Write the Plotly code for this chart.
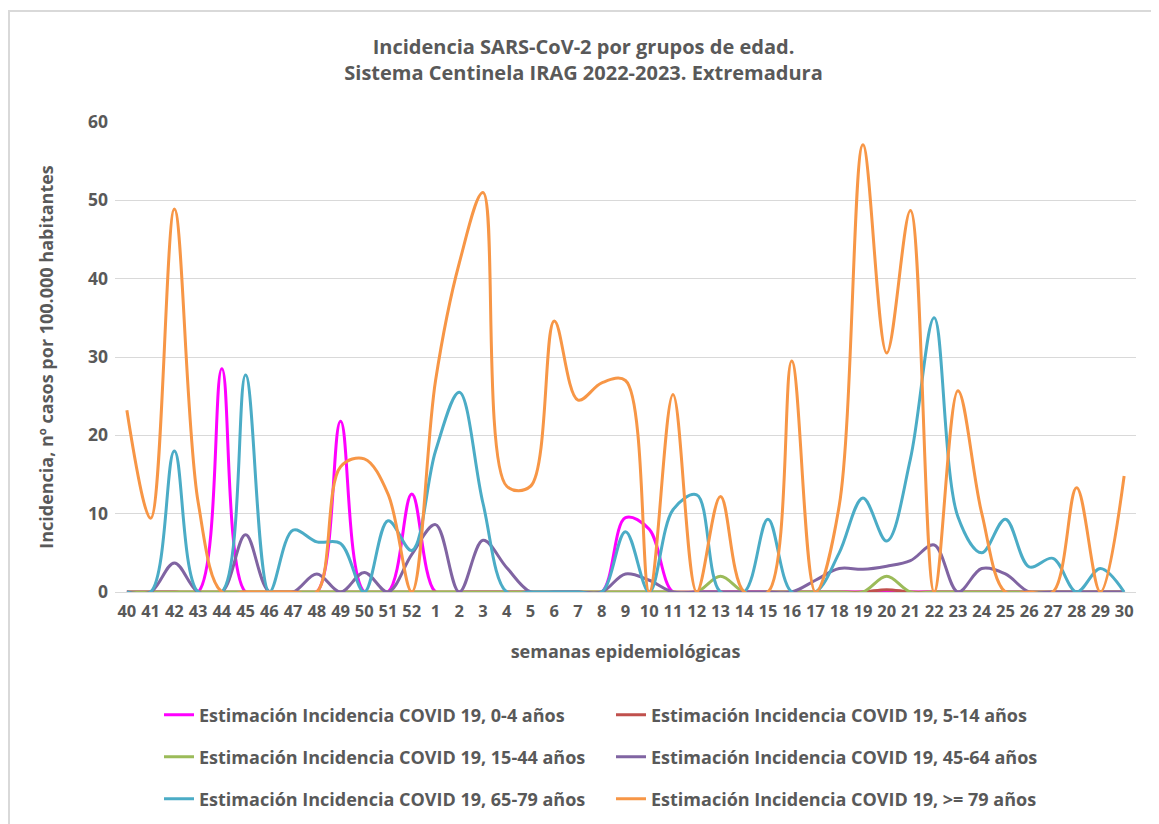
import plotly.graph_objects as go

weeks = [str(w) for w in list(range(40, 53)) + list(range(1, 31))]

inc_0_4 = [0, 0, 0, 0, 28.5, 0, 0, 0, 0, 21.8, 0, 0, 12.5,
           0, 0, 0, 0, 0, 0, 0, 0, 9.5, 8, 0, 0, 0, 0, 0, 0, 0,
           0, 0, 0, 0, 0, 0, 0, 0, 0, 0, 0, 0, 0]
inc_5_14 = [0, 0, 0, 0, 0, 0, 0, 0, 0, 0, 0, 0, 0,
            0, 0, 0, 0, 0, 0, 0, 0, 0, 0, 0, 0, 0, 0, 0, 0, 0,
            0, 0, 0.3, 0, 0, 0, 0, 0, 0, 0, 0, 0, 0]
inc_15_44 = [0, 0, 0, 0, 0, 0, 0, 0, 0, 0, 0, 0, 0,
             0, 0, 0, 0, 0, 0, 0, 0, 0, 0, 0, 0, 2, 0, 0, 0, 0,
             0, 0, 2, 0, 0, 0, 0, 0, 0, 0, 0, 0, 0]
inc_45_64 = [0, 0, 3.7, 0, 0, 7.3, 0, 0, 2.3, 0, 2.5, 0, 4.8,
             8.6, 0, 6.6, 3.1, 0, 0, 0, 0, 2.3, 1.5, 0, 0, 0, 0, 0, 0, 1.5,
             3.0, 2.9, 3.3, 4.0, 6.0, 0, 3.0, 2.3, 0, 0, 0, 0, 0]
inc_65_79 = [0, 0, 18, 0, 0, 27.7, 0, 7.9, 6.4, 6.2, 0, 9.1, 5.3,
             18, 25.5, 11.3, 0, 0, 0, 0, 0, 7.7, 0, 10.5, 12.4, 0, 0, 9.3, 0, 0,
             5, 12, 6.5, 17, 35, 9.6, 5, 9.3, 3.2, 4.3, 0, 3, 0]
inc_79 = [23.2, 9.4, 48.9, 11.5, 0, 0, 0, 0, 0, 16, 17, 12.5, 0,
          27, 42, 51, 13.5, 13.5, 34.6, 24.5, 26.7, 27, 0, 25.2, 0, 12.2, 0, 0, 29.5, 0,
          11, 57.1, 30.5, 48.7, 0, 25.7, 10.1, 0, 0, 0, 13.3, 0, 14.8]

series = [
    ("Estimación Incidencia COVID 19, 0-4 años", inc_0_4, "#FF00FF", "legend"),
    ("Estimación Incidencia COVID 19, 5-14 años", inc_5_14, "#C0504D", "legend"),
    ("Estimación Incidencia COVID 19, 15-44 años", inc_15_44, "#9BBB59", "legend2"),
    ("Estimación Incidencia COVID 19, 45-64 años", inc_45_64, "#8064A2", "legend2"),
    ("Estimación Incidencia COVID 19, 65-79 años", inc_65_79, "#4BACC6", "legend3"),
    ("Estimación Incidencia COVID 19, >= 79 años", inc_79, "#F79646", "legend3"),
]

GRAY = "#595959"
FONT = "Open Sans"

fig = go.Figure()
for name, vals, color, lg in series:
    fig.add_trace(go.Scatter(
        x=weeks, y=vals, name=name, mode="lines",
        line=dict(color=color, width=3, shape="spline", smoothing=1.0),
        legend=lg,
    ))

# page is offset by the 8px default body margin
W, H = 1151, 816
L, R, T, B = 107, 23, 114, 232
pw, ph = W - L - R, H - T - B

def px2paper_x(px):
    return (px - L) / pw

def py2paper_y(py):
    return (H - B - py) / ph

leg_common = dict(orientation="h", xanchor="left", yanchor="middle",
                  entrywidth=407, entrywidthmode="pixels",
                  font=dict(family=FONT, size=18, color=GRAY, weight="bold"),
                  bgcolor="rgba(0,0,0,0)")

fig.update_layout(
    width=W, height=H,
    margin=dict(l=L, r=R, t=T, b=B, autoexpand=False),
    paper_bgcolor="white", plot_bgcolor="white",
    font=dict(family=FONT, color=GRAY),
    title=dict(
        text="Incidencia SARS-CoV-2 por grupos de edad.<br>Sistema Centinela IRAG 2022-2023. Extremadura",
        x=0.5, xanchor="center", xref="container",
        y=1 - 46 / H, yanchor="middle", yref="container",
        font=dict(family=FONT, size=20, color=GRAY, weight="bold"),
    ),
    xaxis=dict(
        type="category", range=[-0.5, len(weeks) - 0.5], automargin=False,
        showgrid=False, showline=False, zeroline=False, tickangle=0,
        ticks="", ticklabelstandoff=7,
        tickfont=dict(family=FONT, size=16.5, color=GRAY, weight="bold"),
        title=dict(text="semanas epidemiológicas", standoff=24,
                   font=dict(family=FONT, size=18, color=GRAY, weight="bold")),
    ),
    yaxis=dict(
        range=[0, 60], dtick=10, showgrid=True, gridcolor="#D9D9D9", gridwidth=1.3,
        zeroline=True, zerolinecolor="#D9D9D9", zerolinewidth=1.3, showline=False,
        ticks="", ticklabelstandoff=6, automargin=False,
        tickfont=dict(family=FONT, size=17.5, color=GRAY, weight="bold"),
        title=dict(text="Incidencia, nº casos por 100.000 habitantes", standoff=29,
                   font=dict(family=FONT, size=18, color=GRAY, weight="bold")),
    ),
    legend=dict(x=px2paper_x(151), y=py2paper_y(707), **leg_common),
    legend2=dict(x=px2paper_x(151), y=py2paper_y(749), **leg_common),
    legend3=dict(x=px2paper_x(151), y=py2paper_y(791), **leg_common),
    shapes=[dict(type="rect", xref="paper", yref="paper",
                 x0=px2paper_x(1), x1=px2paper_x(1170),
                 y0=py2paper_y(830), y1=py2paper_y(3),
                 line=dict(color="#D9D9D9", width=2), layer="below")],
)

fig.write_html("out.html")
